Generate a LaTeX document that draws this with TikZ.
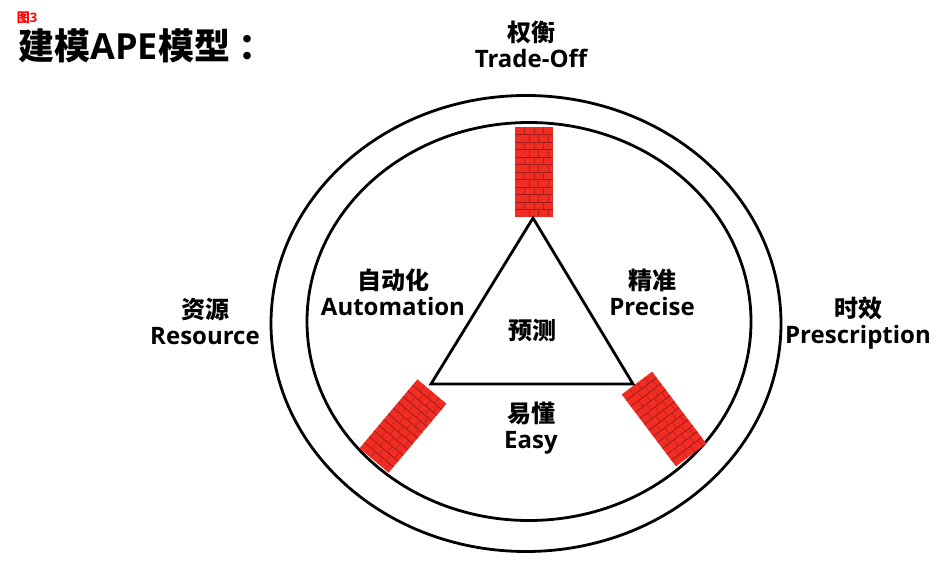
\documentclass[tikz,border=0pt]{standalone}
\usepackage{fontspec}
\setmainfont{Open Sans}
\newfontfamily\cjk{Noto Sans CJK SC}
\usetikzlibrary{positioning}
\definecolor{brickred}{RGB}{240,45,35}
\definecolor{mortar}{RGB}{165,25,25}
\tikzstyle{ring} = [draw, line width=2.8pt]
\tikzstyle{lbl} = [align=center, font=\fontsize{24}{26}\selectfont\bfseries]
\newcommand{\zh}[1]{{\cjk #1}}
\tikzset{
  brick/.pic={
    \fill[brickred] (-19,-45) rectangle (19,45);
    \foreach \r in {1,...,11}
      \draw[mortar, line width=0.8pt] (-19,-45+7.5*\r) -- (19,-45+7.5*\r);
    \foreach \r in {0,...,11} {
      \pgfmathsetmacro\off{mod(\r,2)*4.75}
      \foreach \c in {1,2,3}
        \draw[mortar!70!brickred, line width=0.6pt] ({-19+\off+9.5*\c},-45+7.5*\r) -- ++(0,7.5);
    }
  }
}

\begin{document}
\begin{tikzpicture}[x=1pt,y=-1pt]
    \useasboundingbox (0,0) rectangle (936,561);
    \node [red, font=\fontsize{13}{13}\selectfont\bfseries] (fig) at (27,18) {\zh{图}3};
    \node [anchor=base west, font=\fontsize{36}{36}\selectfont\bfseries] (title) at (15,60) {\zh{建模}APE\zh{模型}\hspace{8pt}\zh{：}};
    % rings
    \draw [ring] (526,323.5) ellipse [x radius=255, y radius=228];
    \draw [ring] (529,321.5) ellipse [x radius=222, y radius=199];
    % bricks
    \pic at (534,172) {brick};
    \pic [rotate=-40] at (403,426) {brick};
    \pic [rotate=37] at (664,419) {brick};
    % triangle
    \coordinate (apex) at (533,218);
    \coordinate (bl) at (431,384);
    \coordinate (br) at (633,384);
    \draw [line width=2.8pt, line join=miter] (apex) -- (bl) -- (br) -- cycle;
    % labels
    \node [lbl] (tradeoff) at (531,44) {\zh{权衡}\\Trade-Off};
    \node [lbl] (resource) at (205,321) {\zh{资源}\\Resource};
    \node [lbl] (prescription) at (858,323) {\zh{时效}\\Prescription};
    \node [lbl] (automation) at (393,292) {\zh{自动化}\\Automation};
    \node [lbl] (precise) at (652,292) {\zh{精准}\\Precise};
    \node [lbl] (predict) at (532,331) {\zh{预测}};
    \node [lbl] (easy) at (531,428) {\zh{易懂}\\Easy};
\end{tikzpicture}
\end{document}
